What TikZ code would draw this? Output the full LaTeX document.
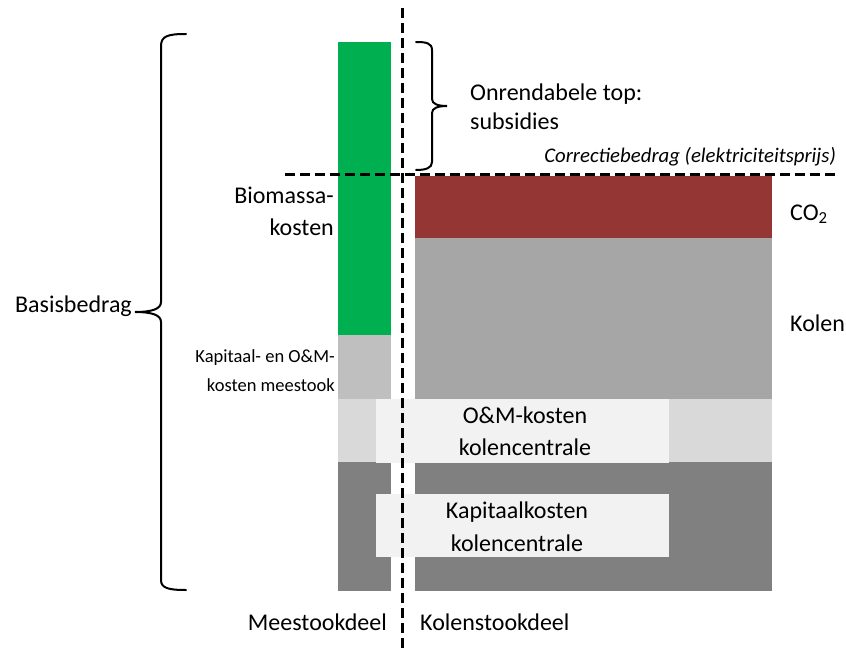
\documentclass[tikz,border=0pt]{standalone}
\usepackage{fontspec}
\setmainfont{Carlito}
\definecolor{grn}{HTML}{00B050}
\definecolor{co2red}{HTML}{943634}
\definecolor{gA6}{HTML}{A6A6A6}
\definecolor{gBF}{HTML}{BFBFBF}
\definecolor{gD9}{HTML}{D9D9D9}
\definecolor{gF2}{HTML}{F2F2F2}
\definecolor{g80}{HTML}{808080}
\tikzset{
  lbl/.style={font=\fontsize{24}{28}\selectfont, inner sep=0pt},
  small/.style={font=\fontsize{18.5}{22}\selectfont, inner sep=0pt},
  dashln/.style={line width=3pt, dash pattern=on 10pt off 5pt},
  bracestyle/.style={line width=2pt, line cap=round},
}
\begin{document}
\begin{tikzpicture}[x=1pt,y=-1pt]
\useasboundingbox (0,0) rectangle (846,650);
% left column
\fill[grn] (338,42) rectangle (391,335);
\fill[gBF] (338,335) rectangle (391,399);
\fill[gD9] (338,399) rectangle (376,462);
\fill[g80] (338,462) rectangle (391,591);
% right column
\fill[co2red] (415,176) rectangle (772,238);
\fill[gA6] (415,238) rectangle (772,399);
\fill[gD9] (415,399) rectangle (772,462);
\fill[g80] (415,462) rectangle (772,591);
% overlay boxes
\fill[gF2] (376,399) rectangle (669,463);
\fill[gF2] (376,494) rectangle (669,557);
% dashed lines
\coordinate (vtop) at (402,8);
\coordinate (vbot) at (402,650);
\coordinate (hl) at (285,174);
\coordinate (hr) at (838,174);
\draw[dashln] (vtop) -- (vbot);
\draw[dashln] (hl) -- (hr);
% left brace
\coordinate (lbt) at (186,34);
\coordinate (lbtip) at (135,312);
\coordinate (lbb) at (186,590);
\draw[bracestyle] (lbt) .. controls (168,34) and (161,36) .. (161,46)
  -- (161,302) .. controls (161,309) and (152,312) .. (lbtip)
  .. controls (152,312) and (161,315) .. (161,322)
  -- (161,580) .. controls (161,588) and (168,590) .. (lbb);
% right brace
\coordinate (rbt) at (416,42);
\coordinate (rbtip) at (447,106);
\coordinate (rbb) at (416,170);
\draw[bracestyle] (rbt) .. controls (426,42) and (432,43) .. (432,50)
  -- (432,99) .. controls (432,104) and (438,106) .. (rbtip)
  .. controls (438,106) and (432,108) .. (432,113)
  -- (432,162) .. controls (432,168) and (426,170) .. (rbb);
% texts
\node[lbl, anchor=base east] (basis) at (132,312) {Basisbedrag};
\node[lbl, anchor=base west] (onr1) at (470,101) {Onrendabele top:};
\node[lbl, anchor=base west] (onr2) at (470,130) {subsidies};
\node[font=\fontsize{20.8}{24}\selectfont\itshape, inner sep=0pt, anchor=base east] (corr) at (836,163) {Correctiebedrag (elektriciteitsprijs)};
\node[lbl, anchor=base west] (co2) at (790,220) {CO\textsubscript{2}};
\node[lbl, anchor=base west] (kolen) at (790,331) {Kolen};
\node[lbl, anchor=base east] (bio1) at (334,203) {Biomassa-};
\node[lbl, anchor=base east] (bio2) at (334,235) {kosten};
\node[small, anchor=base east] (kap1) at (335,362) {Kapitaal- en O\&M-};
\node[small, anchor=base east] (kap2) at (335,391) {kosten meestook};
\node[lbl, anchor=base] (om1) at (525,423) {O\&M-kosten};
\node[lbl, anchor=base] (om2) at (525,455) {kolencentrale};
\node[lbl, anchor=base] (kk1) at (517,518) {Kapitaalkosten};
\node[lbl, anchor=base] (kk2) at (517,551) {kolencentrale};
\node[lbl, anchor=base east] (mee) at (387,630) {Meestookdeel};
\node[lbl, anchor=base west] (kol) at (420,630) {Kolenstookdeel};
\end{tikzpicture}
\end{document}
